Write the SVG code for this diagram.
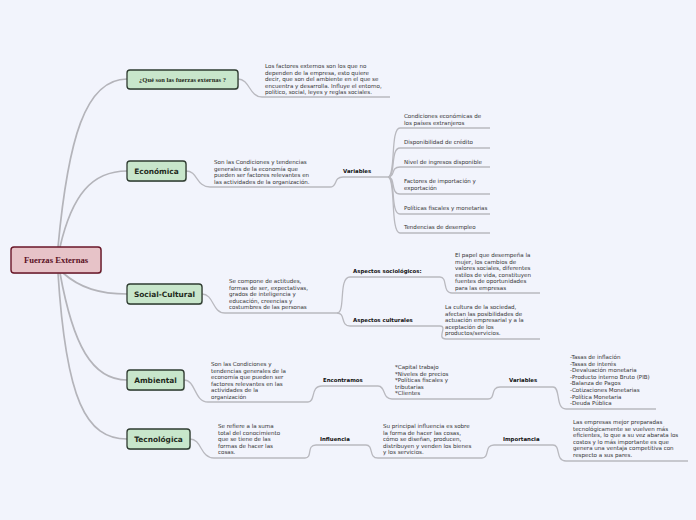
<svg xmlns="http://www.w3.org/2000/svg" width="696" height="520" viewBox="0 0 696 520">
<style>
.bg{fill:#f2f4fc}
.c{fill:none;stroke:#b9b9bf;stroke-width:1.3}
.rc{fill:none;stroke:#b4b4ba;stroke-width:1.7}
.n{fill:#c8e6cb;stroke:#2e3b30;stroke-width:1.3}
.sh{fill:#9aa39c;opacity:0.5}
.nt{font-family:"DejaVu Sans",sans-serif;font-weight:bold;font-size:7.4px;fill:#1f2a20;text-anchor:middle}
.t{font-family:"DejaVu Sans",sans-serif;font-size:5.55px;fill:#333}
.b{font-family:"DejaVu Sans",sans-serif;font-size:5.4px;font-weight:bold;fill:#111}
</style>
<rect class="bg" x="0" y="0" width="696" height="520"/>
<g id="connectors">
<path class="rc" d="M58 247 C68 140 85 79 127 79"/>
<path class="rc" d="M60 247 C72 195 92 171 127 171"/>
<path class="rc" d="M63 273 C80 288 100 294 127 294"/>
<path class="rc" d="M60 273 C73 345 92 380 127 380"/>
<path class="rc" d="M58 273 C66 400 86 439 127 439"/>
<path class="c" d="M238 79 C250 79 249 97 262 97 H390"/>
<path class="c" d="M186 171 C198 171 196 187 210 187 H330"/>
<path class="c" d="M330 187 C338 187 333 177 343 177 H388"/>
<path class="c" d="M388 177 C396 177 390 128 400 128 H490"/>
<path class="c" d="M388 177 C396 177 390 148 400 148 H490"/>
<path class="c" d="M388 177 C396 177 390 167 400 167 H490"/>
<path class="c" d="M388 177 C396 177 390 194 400 194 H490"/>
<path class="c" d="M388 177 C396 177 390 214 400 214 H490"/>
<path class="c" d="M388 177 C396 177 390 233 400 233 H490"/>
<path class="c" d="M202 294 C214 294 212 313 225 313 H337"/>
<path class="c" d="M337 313 C346 313 338 277 350 277 H440"/>
<path class="c" d="M337 313 C346 313 340 326 350 326 H440"/>
<path class="c" d="M440 277 C448 277 442 293 452 293 H540"/>
<path class="c" d="M440 326 C448 326 436 339 446 339 H540"/>
<path class="c" d="M184 380 C196 380 194 402 208 402 H308"/>
<path class="c" d="M308 402 C316 402 310 386 322 386 H378"/>
<path class="c" d="M378 386 C386 386 382 399 392 399 H488"/>
<path class="c" d="M488 399 C496 399 490 387 500 387 H553"/>
<path class="c" d="M553 387 C561 387 555 409 566 409 H656"/>
<path class="c" d="M190 439 C202 439 200 458 214 458 H305"/>
<path class="c" d="M305 458 C313 458 306 445 316 445 H366"/>
<path class="c" d="M366 445 C374 445 368 458 378 458 H482"/>
<path class="c" d="M482 458 C490 458 484 445 494 445 H553"/>
<path class="c" d="M553 445 C561 445 555 461 566 461 H688"/>
</g>
<g id="root">
<rect x="12" y="248" width="90" height="26" rx="3" class="sh"/>
<rect x="11" y="247" width="90" height="26" rx="3" fill="#e7c3c8" stroke="#6a1628" stroke-width="1.4"/>
<text x="56" y="263" text-anchor="middle" font-family="Liberation Serif,serif" font-weight="bold" font-size="8.6" fill="#5a1024">Fuerzas Externas</text>
</g>
<g id="q">
<rect x="128" y="71" width="111" height="19" rx="3" class="sh"/>
<rect x="127" y="70" width="111" height="19" rx="3" class="n"/>
<text x="182.5" y="81.5" text-anchor="middle" font-family="Liberation Serif,serif" font-weight="bold" font-size="6.5" fill="#1f2a20">¿Qué son las fuerzas externas ?</text>
</g>
<g id="q-text" class="t">
<text x="265" y="68">Los factores externos son los que no</text>
<text x="265" y="74.5">dependen de la empresa, esto quiere</text>
<text x="265" y="81">decir, que son del ambiente en el que se</text>
<text x="265" y="87.5">encuentra y desarrolla. Influye el entorno,</text>
<text x="265" y="94">político, social, leyes y reglas sociales.</text>
</g>
<g id="economica">
<rect x="128" y="162" width="59" height="20" rx="3" class="sh"/>
<rect x="127" y="161" width="59" height="20" rx="3" class="n"/>
<text x="156.5" y="173.8" class="nt">Económica</text>
</g>
<g id="eco-text" class="t">
<text x="214" y="164">Son las Condiciones y tendencias</text>
<text x="214" y="170.5">generales de la economía que</text>
<text x="214" y="177">pueden ser factores relevantes en</text>
<text x="214" y="183.5">las actividades de la organización.</text>
</g>
<g id="eco-variables"><text x="343" y="173" class="b">Variables</text></g>
<g id="eco-items" class="t">
<text x="404" y="118">Condiciones económicas de</text>
<text x="404" y="124.5">los países extranjeros</text>
<text x="404" y="144">Disponibilidad de crédito</text>
<text x="404" y="163.5">Nivel de ingresos disponible</text>
<text x="404" y="183">Factores de importación y</text>
<text x="404" y="189.5">exportación</text>
<text x="404" y="210">Políticas fiscales y monetarias</text>
<text x="404" y="229">Tendencias de desempleo</text>
</g>
<g id="social">
<rect x="128" y="285" width="75" height="20" rx="3" class="sh"/>
<rect x="127" y="284" width="75" height="20" rx="3" class="n"/>
<text x="164.5" y="296.8" class="nt">Social-Cultural</text>
</g>
<g id="soc-text" class="t">
<text x="229" y="283">Se compone de actitudes,</text>
<text x="229" y="289.5">formas de ser, expectativas,</text>
<text x="229" y="296">grados de inteligencia y</text>
<text x="229" y="302.5">educación, creencias y</text>
<text x="229" y="309">costumbres de las personas</text>
</g>
<g id="asp-soc"><text x="353" y="273" class="b">Aspectos sociológicos:</text></g>
<g id="asp-soc-text" class="t">
<text x="455" y="257">El papel que desempeña la</text>
<text x="455" y="263.5">mujer, los cambios de</text>
<text x="455" y="270">valores sociales, diferentes</text>
<text x="455" y="276.5">estilos de vida,  constituyen</text>
<text x="455" y="283">fuentes de oportunidades</text>
<text x="455" y="289.5">para las empresas</text>
</g>
<g id="asp-cul"><text x="353" y="322" class="b">Aspectos culturales</text></g>
<g id="asp-cul-text" class="t">
<text x="445" y="309">La cultura de la sociedad,</text>
<text x="445" y="315.5">afectan las posibilidades de</text>
<text x="445" y="322">actuación empresarial y a la</text>
<text x="445" y="328.5">aceptación de los</text>
<text x="445" y="335">productos/servicios.</text>
</g>
<g id="ambiental">
<rect x="128" y="371" width="57" height="20" rx="3" class="sh"/>
<rect x="127" y="370" width="57" height="20" rx="3" class="n"/>
<text x="155.5" y="382.8" class="nt">Ambiental</text>
</g>
<g id="amb-text" class="t">
<text x="211" y="366">Son las Condiciones y</text>
<text x="211" y="372.5">tendencias generales de la</text>
<text x="211" y="379">economía que pueden ser</text>
<text x="211" y="385.5">factores relevantes en las</text>
<text x="211" y="392">actividades de la</text>
<text x="211" y="398.5">organización</text>
</g>
<g id="encontramos"><text x="323" y="382" class="b">Encontramos</text></g>
<g id="enc-text" class="t">
<text x="395" y="369">*Capital trabajo</text>
<text x="395" y="375.5">*Niveles de precios</text>
<text x="395" y="382">*Políticas fiscales y</text>
<text x="395" y="388.5">tributarias</text>
<text x="395" y="395">*Clientes</text>
</g>
<g id="amb-variables"><text x="509" y="382" class="b">Variables</text></g>
<g id="amb-var-text" class="t">
<text x="570" y="359">-Tasas de inflación</text>
<text x="570" y="365.6">-Tasas de interés</text>
<text x="570" y="372.2">-Devaluación monetaria</text>
<text x="570" y="378.8">-Producto interno Bruto (PIB)</text>
<text x="570" y="385.4">-Balanza de Pagos</text>
<text x="570" y="392">-Cotizaciones Monetarias</text>
<text x="570" y="398.6">-Política Monetaria</text>
<text x="570" y="405.2">-Deuda Pública</text>
</g>
<g id="tecnologica">
<rect x="128" y="430" width="63" height="20" rx="3" class="sh"/>
<rect x="127" y="429" width="63" height="20" rx="3" class="n"/>
<text x="158.5" y="441.8" class="nt">Tecnológica</text>
</g>
<g id="tec-text" class="t">
<text x="218" y="428">Se refiere a la suma</text>
<text x="218" y="434.5">total del conocimiento</text>
<text x="218" y="441">que se tiene de las</text>
<text x="218" y="447.5">formas de hacer las</text>
<text x="218" y="454">cosas.</text>
</g>
<g id="influencia"><text x="320" y="441" class="b">Influencia</text></g>
<g id="inf-text" class="t">
<text x="383" y="428">Su principal influencia es sobre</text>
<text x="383" y="434.5">la forma de hacer las cosas,</text>
<text x="383" y="441">cómo se diseñan, producen,</text>
<text x="383" y="447.5">distribuyen y venden los bienes</text>
<text x="383" y="454">y los servicios.</text>
</g>
<g id="importancia"><text x="503" y="441" class="b">Importancia</text></g>
<g id="imp-text" class="t">
<text x="573" y="424">Las empresas mejor preparadas</text>
<text x="573" y="430.5">tecnológicamente se vuelven más</text>
<text x="573" y="437">eficientes, lo que a su vez abarata los</text>
<text x="573" y="443.5">costos y lo más importante es que</text>
<text x="573" y="450">genera una ventaja competitiva con</text>
<text x="573" y="456.5">respecto a sus pares.</text>
</g>
</svg>
